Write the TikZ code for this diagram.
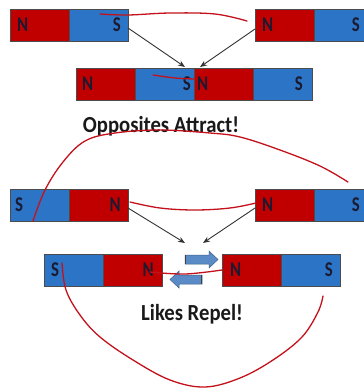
\documentclass[tikz,border=0pt]{standalone}
\usepackage{fontspec}
\setmainfont{Carlito}
\usetikzlibrary{arrows.meta}
\definecolor{mred}{HTML}{C00000}
\definecolor{mblue}{HTML}{2B74C6}
\definecolor{ink}{HTML}{C4121C}
\definecolor{poletext}{HTML}{1A1A30}
\definecolor{barrow}{HTML}{5A8BC6}
\begin{document}
\begin{tikzpicture}[x=1pt,y=-1pt,
  half/.style={draw=black!70, line width=0.7pt, minimum width=59pt, minimum height=32pt,
    inner sep=0pt, outer sep=0pt, anchor=west},
  redhalf/.style={half, fill=mred},
  bluehalf/.style={half, fill=mblue},
  pole/.style={font=\bfseries\fontsize{21}{21}\selectfont, text=poletext, inner sep=0pt},
  caption/.style={font=\bfseries\fontsize{23}{23}\selectfont, text=black!90, inner sep=0pt},
  pull/.style={draw=black!80, line width=0.9pt, -{Stealth[length=7pt,width=5.5pt]}},
  hand/.style={draw=ink, line width=1.3pt, line cap=round, line join=round},
  blockarrow/.style={fill=barrow, draw=barrow!70!black, line width=0.5pt}
]
\clip (0,0) rectangle (364,392);
\fill[white] (0,0) rectangle (364,392);

% ---- top row
\node[redhalf]  (tlR) at (10,25) {};
\node[bluehalf] (tlB) at (69,25) {};
\node[redhalf]  (trR) at (255,25) {};
\node[bluehalf] (trB) at (314,25) {};
\node[pole, anchor=west] (tlN) at ([xshift=7pt]tlR.west) {\scalebox{0.8}[1]{N}};
\node[pole, anchor=east] (tlS) at ([xshift=-7pt]tlB.east) {\scalebox{0.8}[1]{S}};
\node[pole, anchor=west] (trN) at ([xshift=7pt]trR.west) {\scalebox{0.8}[1]{N}};
\node[pole, anchor=east] (trS) at ([xshift=-13pt]trB.east) {\scalebox{0.8}[1]{S}};

% ---- joined magnet
\node[redhalf]  (m1) at (76,84) {};
\node[bluehalf] (m2) at (135,84) {};
\node[redhalf]  (m3) at (194,84) {};
\node[bluehalf] (m4) at (253,84) {};
\node[pole, anchor=west] (mN1) at ([xshift=6pt]m1.west) {\scalebox{0.8}[1]{N}};
\node[pole, anchor=east] (mS1) at ([xshift=-3pt]m2.east) {\scalebox{0.8}[1]{S}};
\node[pole, anchor=west] (mN2) at ([xshift=3pt]m3.west) {\scalebox{0.8}[1]{N}};
\node[pole, anchor=east] (mS2) at ([xshift=-9pt]m4.east) {\scalebox{0.8}[1]{S}};

\coordinate (a1) at (185,67);
\coordinate (a2) at (200,67);
\draw[pull] ([yshift=-3pt]tlB.east) -- (a1);
\draw[pull] ([yshift=-4pt]trR.west) -- (a2);

\node[caption] (attract) at (161,126) {\scalebox{0.9}[1]{Opposites Attract!}};

% ---- second row
\node[bluehalf] (lbB) at (10,205) {};
\node[redhalf]  (lbR) at (69,205) {};
\node[redhalf]  (rbR) at (255,205) {};
\node[bluehalf] (rbB) at (314,205) {};
\node[pole, anchor=west] (lbS) at ([xshift=5pt]lbB.west) {\scalebox{0.8}[1]{S}};
\node[pole, anchor=east] (lbN) at ([xshift=-7pt]lbR.east) {\scalebox{0.8}[1]{N}};
\node[pole, anchor=west] (rbN) at ([xshift=7pt]rbR.west) {\scalebox{0.8}[1]{N}};
\node[pole, anchor=east] (rbS) at ([xshift=-13pt]rbB.east) {\scalebox{0.8}[1]{S}};

\coordinate (b1) at (185,243);
\coordinate (b2) at (203,243);
\draw[pull] ([yshift=-3pt]lbR.east) -- (b1);
\draw[pull] ([yshift=-3pt]rbR.west) -- (b2);

% ---- repelled magnets
\node[bluehalf] (pbB) at (44,270) {};
\node[redhalf]  (pbR) at (103,270) {};
\node[redhalf]  (qbR) at (222,270) {};
\node[bluehalf] (qbB) at (281,270) {};
\node[pole, anchor=west] (pbS) at ([xshift=7pt]pbB.west) {\scalebox{0.8}[1]{S}};
\node[pole, anchor=east] (pbN) at ([xshift=-8pt]pbR.east) {\scalebox{0.8}[1]{N}};
\node[pole, anchor=west] (qbN) at ([xshift=8pt]qbR.west) {\scalebox{0.8}[1]{N}};
\node[pole, anchor=east] (qbS) at ([xshift=-7pt]qbB.east) {\scalebox{0.8}[1]{S}};

% block arrows
\draw[blockarrow] (185,255) -- (209,255) -- (209,251) -- (218,259.5) -- (209,268) -- (209,264) -- (185,264) -- cycle;
\draw[black!75, line width=1.6pt] (185.5,255) -- (185.5,264);
\draw[blockarrow] (202,275) -- (179,275) -- (179,271) -- (170,279.5) -- (179,288) -- (179,284) -- (202,284) -- cycle;
\draw[black!75, line width=1.6pt] (201.5,275) -- (201.5,284);

\node[caption] (repel) at (192,314) {\scalebox{0.9}[1]{Likes Repel!}};

% ---- hand-drawn red strokes
\draw[hand] plot[smooth, tension=0.6] coordinates {(100,14) (128,15) (170,13) (215,14) (247,21)};
\draw[hand] plot[smooth, tension=0.6] coordinates {(153,75) (175,78) (195,79)};
\draw[hand] plot[smooth, tension=0.6] coordinates {(33,221) (45,190) (63,162) (85,141) (115,133) (160,130) (210,133) (240,137) (280,150) (320,166) (348,182)};
\draw[hand] plot[smooth, tension=0.6] coordinates {(130,202) (160,208) (195,210) (230,208) (256,203)};
\draw[hand] plot[smooth, tension=0.6] coordinates {(150,272) (185,274) (222,270)};
\draw[hand] plot[smooth, tension=0.6] coordinates {(62,263) (66,290) (80,315) (100,337) (133,360) (170,380) (205,387) (240,378) (273,360) (302,337) (318,312) (323,296)};
\end{tikzpicture}
\end{document}
